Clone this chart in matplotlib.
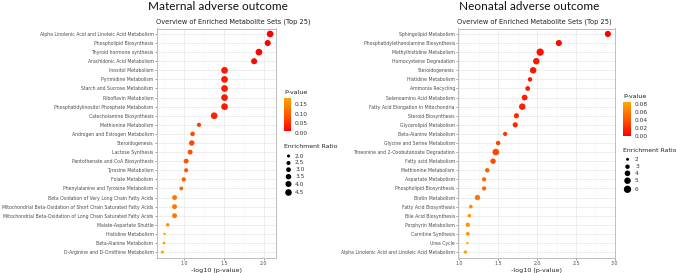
import numpy as np
import matplotlib
matplotlib.use("Agg")
import matplotlib.pyplot as plt
from matplotlib.colors import LinearSegmentedColormap, Normalize

# Maternal panel data (top to bottom)
mat_sets = [
    "Alpha Linolenic Acid and Linoleic Acid Metabolism",
    "Phospholipid Biosynthesis",
    "Thyroid hormone synthesis",
    "Arachidonic Acid Metabolism",
    "Inositol Metabolism",
    "Pyrimidine Metabolism",
    "Starch and Sucrose Metabolism",
    "Riboflavin Metabolism",
    "Phosphatidylinositol Phosphate Metabolism",
    "Catecholamine Biosynthesis",
    "Methionine Metabolism",
    "Androgen and Estrogen Metabolism",
    "Steroidogenesis",
    "Lactose Synthesis",
    "Pantothenate and CoA Biosynthesis",
    "Tyrosine Metabolism",
    "Folate Metabolism",
    "Phenylalanine and Tyrosine Metabolism",
    "Beta Oxidation of Very Long Chain Fatty Acids",
    "Mitochondrial Beta-Oxidation of Short Chain Saturated Fatty Acids",
    "Mitochondrial Beta-Oxidation of Long Chain Saturated Fatty Acids",
    "Malate-Aspartate Shuttle",
    "Histidine Metabolism",
    "Beta-Alanine Metabolism",
    "D-Arginine and D-Ornithine Metabolism",
]
mat_logp = [2.08, 2.05, 1.94, 1.88, 1.51, 1.51, 1.51, 1.51, 1.51, 1.38,
            1.19, 1.11, 1.10, 1.08, 1.03, 1.03, 1.00, 0.97, 0.885, 0.885,
            0.885, 0.80, 0.76, 0.753, 0.733]
mat_ratio = [4.6, 4.0, 4.6, 4.0, 4.6, 4.6, 4.6, 4.6, 4.6, 4.6,
             2.6, 2.8, 3.5, 3.1, 3.1, 2.6, 2.6, 2.4, 3.1, 3.1,
             3.1, 2.2, 1.7, 1.85, 2.0]
mat_size_breaks = [2.0, 2.5, 3.0, 3.5, 4.0, 4.5]
mat_size_labels = ["2.0", "2.5", "3.0", "3.5", "4.0", "4.5"]
mat_p_ticks = [0.00, 0.05, 0.10, 0.15]
mat_x_ticks = [1.0, 1.5, 2.0]

# Neonatal panel data (top to bottom)
neo_sets = [
    "Sphingolipid Metabolism",
    "Phosphatidylethanolamine Biosynthesis",
    "Methylhistidine Metabolism",
    "Homocysteine Degradation",
    "Steroidogenesis",
    "Histidine Metabolism",
    "Ammonia Recycling",
    "Selenoamino Acid Metabolism",
    "Fatty Acid Elongation In Mitochondria",
    "Steroid Biosynthesis",
    "Glycerolipid Metabolism",
    "Beta-Alanine Metabolism",
    "Glycine and Serine Metabolism",
    "Threonine and 2-Oxobutanoate Degradation",
    "Fatty acid Metabolism",
    "Methionine Metabolism",
    "Aspartate Metabolism",
    "Phospholipid Biosynthesis",
    "Biotin Metabolism",
    "Fatty Acid Biosynthesis",
    "Bile Acid Biosynthesis",
    "Porphyrin Metabolism",
    "Carnitine Synthesis",
    "Urea Cycle",
    "Alpha Linolenic Acid and Linoleic Acid Metabolism",
]
neo_logp = [2.91, 2.28, 2.04, 1.99, 1.95, 1.91, 1.88, 1.84, 1.81, 1.735,
            1.72, 1.59, 1.50, 1.47, 1.435, 1.36, 1.32, 1.32, 1.235, 1.15,
            1.13, 1.11, 1.11, 1.105, 1.08]
neo_ratio = [4.6, 4.6, 6.0, 5.0, 5.0, 3.0, 3.3, 4.3, 5.0, 3.6,
             3.6, 2.8, 3.0, 5.2, 3.9, 3.0, 2.8, 2.8, 3.9, 2.5,
             2.3, 3.0, 2.5, 1.7, 2.3]
neo_size_breaks = [2, 3, 4, 5, 6]
neo_size_labels = ["2", "3", "4", "5", "6"]
neo_p_ticks = [0.00, 0.02, 0.04, 0.06, 0.08]
neo_x_ticks = [1.0, 1.5, 2.0, 2.5, 3.0]

W, H = 676, 273
cmap = LinearSegmentedColormap.from_list("redorange", ["#FF0000", "#FF5A00", "#FFA500"])
label_col = "#4D4D4D"
grid_col = "#EBEBEB"
border_col = "#BDBDBD"


def fx(px):
    return px / W


def fy(py):
    return 1 - py / H


def area_fn(rmin, rmax, dmin, dmax):
    # ggplot-like area scaling: diameter in px -> scatter size in pt^2
    def f(r):
        r = np.asarray(r, dtype=float)
        t = (r - rmin) / (rmax - rmin)
        d2 = dmin ** 2 + t * (dmax ** 2 - dmin ** 2)
        return d2 * 0.72 ** 2
    return f


def draw_panel(fig, over, box, sets, logp, ratio, xticks, sizef,
               title, title_x, sub_x, cbox, p_ticks, ptitle_y,
               leg_title_y, leg_ys, breaks, blabels, dot_x, text_x):
    ax = fig.add_axes(box)
    n = len(sets)
    y = np.arange(n)[::-1] + 1
    pvals = 10 ** (-np.array(logp))
    norm = Normalize(vmin=pvals.min(), vmax=pvals.max())

    ax.scatter(logp, y, s=sizef(ratio), c=pvals, cmap=cmap, norm=norm,
               linewidths=0, zorder=3)

    lo, hi = min(logp), max(logp)
    pad = (hi - lo) * 0.05
    ax.set_xlim(lo - pad, hi + pad)
    ax.set_ylim(0.4, n + 0.6)
    ax.set_yticks(y)
    ax.set_yticklabels(sets, fontsize=3.35, color=label_col)
    ax.set_xticks(xticks)
    ax.set_xticklabels([f"{v:.1f}" for v in xticks], fontsize=3.4, color=label_col)
    minor = [v + 0.25 for v in np.arange(0, 4, 0.5)]
    ax.set_xticks([m for m in minor if lo - pad < m < hi + pad], minor=True)
    ax.tick_params(axis="both", which="major", length=1.5, width=0.4,
                   color="#555555", pad=1)
    ax.tick_params(axis="x", which="minor", length=0)
    ax.grid(True, which="major", color=grid_col, linewidth=0.6, zorder=0)
    ax.grid(True, which="minor", axis="x", color="#F3F3F3", linewidth=0.4, zorder=0)
    ax.set_axisbelow(True)
    for sp in ax.spines.values():
        sp.set_color(border_col)
        sp.set_linewidth(0.7)
    ax.set_xlabel("-log10 (p-value)", fontsize=4.6, color="#222222", labelpad=1.5)

    over.text(title_x, 7, title, fontsize=8.5, family="Lato",
              ha="center", va="center", color="#111111")
    over.text(sub_x, 22, "Overview of Enriched Metabolite Sets (Top 25)",
              fontsize=4.8, ha="left", va="center", color="#222222")

    # colour bar
    cax = fig.add_axes([fx(cbox[0]), fy(cbox[1] + cbox[3]), fx(cbox[2]), cbox[3] / H])
    cb = fig.colorbar(plt.cm.ScalarMappable(norm=norm, cmap=cmap), cax=cax)
    cb.outline.set_visible(False)
    cb.set_ticks(p_ticks)
    cb.set_ticklabels([f"{t:.2f}" for t in p_ticks])
    cax.tick_params(labelsize=4.2, length=0, pad=2.5, labelcolor="#333333")
    over.text(cbox[0], ptitle_y, "P-value", fontsize=4.6,
              ha="left", va="center", color="#222222")

    # size legend
    over.text(cbox[0], leg_title_y, "Enrichment Ratio", fontsize=4.4,
              ha="left", va="center", color="#222222")
    over.scatter([dot_x] * len(breaks), leg_ys, s=sizef(breaks), c="black",
                 linewidths=0, clip_on=False)
    for v, lab in zip(leg_ys, blabels):
        over.text(text_x, v, lab, fontsize=4.2, ha="left",
                  va="center", color="#333333")
    return ax


fig = plt.figure(figsize=(W / 100, H / 100), dpi=100)
fig.patch.set_facecolor("white")

# overlay in pixel coordinates for titles and legends
over = fig.add_axes([0, 0, 1, 1], zorder=5)
over.set_xlim(0, W)
over.set_ylim(H, 0)
over.axis("off")
over.patch.set_alpha(0)

mat_size = area_fn(1.7, 4.6, 2.3, 6.7)
neo_size = area_fn(1.7, 6.0, 2.3, 7.3)

draw_panel(fig, over, [fx(157), fy(257.5), fx(275.5 - 157), (257.5 - 28.5) / H],
           mat_sets, mat_logp, mat_ratio, mat_x_ticks, mat_size,
           "Maternal adverse outcome", 218, 156,
           [284, 97.7, 7.5, 35], mat_p_ticks, 92,
           147, [156, 163, 169.7, 176.7, 184, 192.5],
           mat_size_breaks, mat_size_labels, 288.5, 295)

draw_panel(fig, over, [fx(458.3), fy(257.5), fx(615 - 458.3), (257.5 - 28.5) / H],
           neo_sets, neo_logp, neo_ratio, neo_x_ticks, neo_size,
           "Neonatal adverse outcome", 529, 456.7,
           [623.3, 102.3, 7.4, 33.7], neo_p_ticks, 96.7,
           151, [159.3, 166.7, 173.3, 180.7, 189.3],
           neo_size_breaks, neo_size_labels, 627.5, 635)

fig.savefig("out.png", dpi=100, facecolor="white")
